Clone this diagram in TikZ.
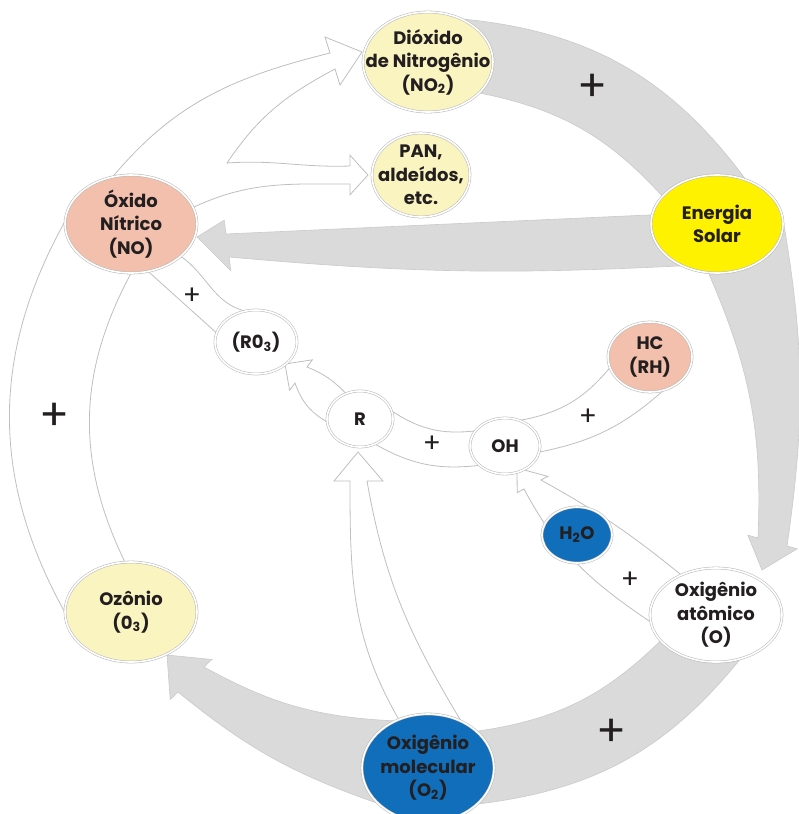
\documentclass[tikz,border=0pt]{standalone}
\usepackage{fontspec}
\setmainfont{Poppins}
\usetikzlibrary{shapes.geometric,calc,backgrounds}
\definecolor{paleyellow}{RGB}{250,244,192}
\definecolor{salmon}{RGB}{242,192,172}
\definecolor{sunyellow}{RGB}{255,242,0}
\definecolor{deepblue}{RGB}{16,110,186}
\definecolor{bandgray}{RGB}{218,218,218}
\definecolor{inkdark}{RGB}{35,31,32}
\tikzset{
	bubble/.style={ellipse, draw=black!28, double=white, double distance=1.2pt,
	 line width=.4pt, inner sep=0pt},
	tag/.style={align=center, text=inkdark, inner sep=0pt,
	 font=\bfseries\fontsize{13.5}{17.6}\selectfont},
	grayband/.style={fill=bandgray, draw=black!20, line width=.5pt},
	whiteband/.style={fill=white, draw=black!25, line width=.6pt},
	bigplus/.style={text=inkdark, font=\fontsize{33}{33}\selectfont},
	plus/.style={text=inkdark, font=\fontsize{20}{20}\selectfont}}

\begin{document}
\begin{tikzpicture}[x=.75pt, y=.75pt]
\useasboundingbox (0,0) rectangle (799,-814);

% NODES
\node (no2) [bubble, fill=paleyellow, minimum width=97.5pt, minimum height=75pt,
 label={[tag]center:Dióxido\\de Nitrogênio\\(NO\textsubscript{2})}] at (428,-62) {};
\node (pan) [bubble, fill=paleyellow, minimum width=73.5pt, minimum height=63pt,
 label={[tag]center:PAN,\\aldeídos,\\etc.}] at (421,-175) {};
\node (no) [bubble, fill=salmon, minimum width=99pt, minimum height=73.5pt,
 label={[tag]center:Óxido\\Nítrico\\(NO)}] at (131,-224) {};
\node (solar) [bubble, fill=sunyellow, minimum width=99pt, minimum height=73.5pt,
 label={[tag]center:Energia\\Solar}] at (717,-224) {};
\node (hc) [bubble, fill=salmon, minimum width=63pt, minimum height=52.5pt,
 label={[tag]center:HC\\(RH)}] at (650,-357) {};
\node (ro3) [bubble, fill=white, minimum width=61.5pt, minimum height=48pt,
 label={[tag]center:(R0\textsubscript{3})}] at (256,-342) {};
\node (r) [bubble, fill=white, minimum width=49.5pt, minimum height=42pt,
 label={[tag]center:R}] at (360,-419) {};
\node (oh) [bubble, fill=white, minimum width=52.5pt, minimum height=42pt,
 label={[tag]center:OH}] at (505,-446) {};
\node (h2o) [bubble, fill=deepblue, minimum width=52.5pt, minimum height=42pt,
 label={[tag]center:H\textsubscript{2}O}] at (577,-535) {};
\node (oatom) [bubble, fill=white, minimum width=99pt, minimum height=70.5pt,
 label={[tag]center:Oxigênio\\atômico\\(O)}] at (716,-615) {};
\node (o3) [bubble, fill=paleyellow, minimum width=99pt, minimum height=75pt,
 label={[tag]center:Ozônio\\(0\textsubscript{3})}] at (131,-612) {};
\node (o2) [bubble, fill=deepblue, minimum width=99pt, minimum height=81pt,
 label={[tag]center:Oxigênio\\molecular\\(O\textsubscript{2})}] at (428,-768) {};

% plus signs
\node (plusA) [bigplus] at (593,-88) {+};
\node (plusB) [bigplus] at (55,-417) {+};
\node (plusC) [bigplus] at (612,-733) {+};
\node (plusD) [plus] at (192,-296) {+};
\node (plusE) [plus] at (432,-444) {+};
\node (plusF) [plus] at (588,-417) {+};
\node (plusG) [plus] at (630,-580) {+};

% arrow heads
\coordinate (solA) at (787,-546); \coordinate (solB) at (758,-538); \coordinate (solTip) at (762,-570);
\coordinate (noA) at (226,-234); \coordinate (noB) at (229,-257); \coordinate (noTip) at (197,-237);
\coordinate (ozA) at (204,-667); \coordinate (ozB) at (178,-692); \coordinate (ozTip) at (167,-655);
\coordinate (fork) at (227,-163);
\coordinate (dA) at (330,-53); \coordinate (dB) at (335,-69); \coordinate (dTip) at (362,-52);
\coordinate (pA) at (350,-166); \coordinate (pB) at (350,-184); \coordinate (pTip) at (368,-175);
\coordinate (rA) at (307,-367); \coordinate (rB) at (295,-383); \coordinate (rTip) at (285,-364);
\coordinate (hA) at (524,-489); \coordinate (hB) at (541,-480); \coordinate (hTip) at (517,-468);
\coordinate (mA) at (350,-481); \coordinate (mB) at (367,-481); \coordinate (mTip) at (358,-452);

%CONNECTIONS
\begin{scope}[on background layer]
% gray cycle
\filldraw[grayband] (no2.52) to[bend left=24] (solar.57) -- (solar.153) to[bend right=18] (no2.-31) -- cycle;
\filldraw[grayband] (solar.5) to[bend left=9] (solA) -- ($(solA)!-.35!(solB)$) -- (solTip)
 -- ($(solB)!-.35!(solA)$) -- (solB) to[bend right=13] (solar.-100) -- cycle;
\filldraw[grayband] (solar.172) -- (noA) -- ($(noA)!-.6!(noB)$) -- (noTip)
 -- ($(noB)!-.6!(noA)$) -- (noB) to[bend right=4] (solar.230) -- cycle;
\filldraw[grayband] (oatom.-61) to[bend left=22] (o2.-36) -- (o2.37) to[bend right=18] (oatom.205) -- cycle;
\filldraw[grayband] (o2.215) to[bend left=10] (ozB) -- ($(ozB)!-.3!(ozA)$) -- (ozTip)
 -- ($(ozA)!-.3!(ozB)$) -- (ozA) to[bend right=13] (o2.125) -- cycle;
% white arrows
\filldraw[whiteband] (no.111) to[out=50,in=194] (dA) -- ($(dA)!-1!(dB)$) -- (dTip)
 -- ($(dB)!-1!(dA)$) -- (dB) to[out=208,in=56] (fork) to[out=4,in=182] (pA)
 -- ($(pA)!-.6!(pB)$) -- (pTip) -- ($(pB)!-.6!(pA)$) -- (pB) to[out=180,in=25] (no.15) -- cycle;
\filldraw[whiteband] (no.178) to[bend right=29] (o3.180) -- (o3.97) to[bend left=27] (no.-90) -- cycle;
\filldraw[whiteband] (no.-33) to[out=-35,in=165] (ro3.110) -- (ro3.167) -- (no.-70) -- cycle;
\filldraw[whiteband] (r.119) to[bend right=12] (rA) -- ($(rA)!-.45!(rB)$) -- (rTip)
 -- ($(rB)!-.45!(rA)$) -- (rB) to[bend right=20] (r.185) -- cycle;
\filldraw[whiteband] (oh.153) to[bend left=20] (r.14) -- (r.-59) to[bend right=18] (oh.217) -- cycle;
\filldraw[whiteband] (hc.195) to[bend left=20] (oh.60) -- (oh.-10) to[bend right=15] (hc.-68) -- cycle;
\filldraw[whiteband] (oatom.131) to[bend right=5] (hB) -- ($(hB)!-.4!(hA)$) -- (hTip)
 -- ($(hA)!-.4!(hB)$) -- (hA) to[out=-62,in=146] (oatom.186) -- cycle;
\filldraw[whiteband] (o2.121) to[out=120,in=-90] (mA) -- ($(mA)!-.94!(mB)$) -- (mTip)
 -- ($(mB)!-.94!(mA)$) -- (mB) to[out=-80,in=121] (o2.55) -- cycle;
\end{scope}

\end{tikzpicture}
\end{document}
